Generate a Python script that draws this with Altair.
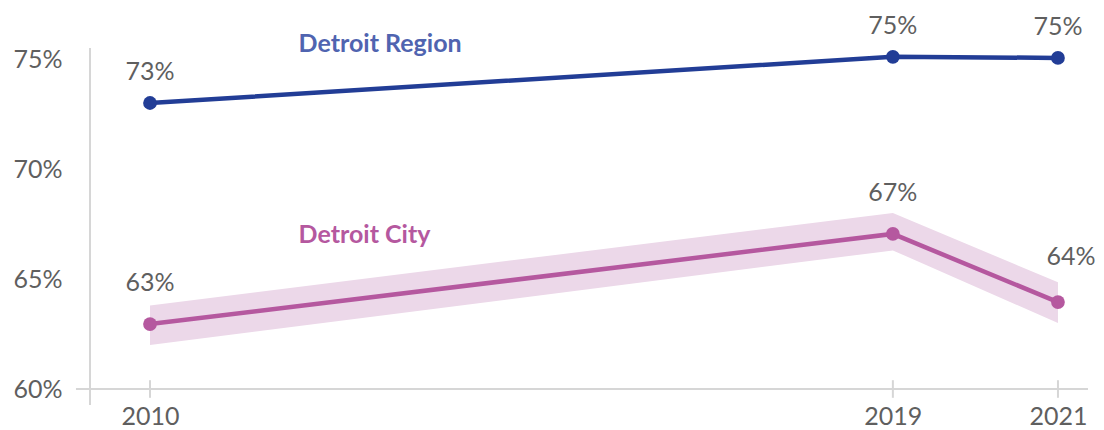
import altair as alt
import pandas as pd

years = [2010, 2019, 2021]
region = [73.0, 75.1, 75.05]
region_labels = ["73%", "75%", "75%"]
city = [62.95, 67.05, 63.95]
city_labels = ["63%", "67%", "64%"]
city_low = [62.0, 66.3, 63.0]
city_high = [63.8, 68.0, 64.85]

df_r = pd.DataFrame({"year": years, "v": region, "lab": region_labels})
df_c = pd.DataFrame({"year": years, "v": city, "lab": city_labels, "lo": city_low, "hi": city_high})

FONT = "Lato"
GREY = "#5f5f5f"
BLUE = "#223d96"
BLUE_T = "#5064b0"
PINK = "#b5589f"
BAND = "#ecd8e9"
AXC = "#d6d6d6"
FS = 25

xs = alt.Scale(domain=[2009.273, 2021.364], nice=False, zero=False)
ys = alt.Scale(domain=[60, 75.5], nice=False, zero=False)

X = alt.X("year:Q", scale=xs, axis=alt.Axis(values=years, format="d", domain=False, ticks=False,
          grid=False, labelFont=FONT, labelFontSize=FS, labelColor=GREY, labelPadding=15,
          labelFontWeight="normal"), title=None)
Y = alt.Y("v:Q", scale=ys, axis=alt.Axis(values=[60, 65, 70, 75], domain=False, ticks=False, grid=False,
          labelFont=FONT, labelFontSize=FS, labelColor=GREY, labelPadding=28,
          labelFontWeight="normal", labelExpr="datum.value + '%'"), title=None)

base_axis = alt.Chart(pd.DataFrame({"a": [0]}))
xline = base_axis.mark_rule(color=AXC, strokeWidth=2).encode(
    x=alt.datum(2009.103, scale=xs), x2=alt.datum(2021.364), y=alt.datum(60, scale=ys))
yline = base_axis.mark_rule(color=AXC, strokeWidth=2).encode(
    x=alt.datum(2009.273, scale=xs), y=alt.datum(75.5, scale=ys), y2=alt.datum(59.27))
xticks = alt.Chart(pd.DataFrame({"year": years})).mark_rule(color=AXC, strokeWidth=2).encode(
    x=alt.X("year:Q", scale=xs), y=alt.datum(60.4, scale=ys), y2=alt.datum(59.6))

band = alt.Chart(df_c).mark_area(color=BAND, opacity=1).encode(
    x=X, y=alt.Y("lo:Q", scale=ys), y2="hi:Q")

rline = alt.Chart(df_r).mark_line(color=BLUE, strokeWidth=4.5).encode(x=X, y=Y)
rpts = alt.Chart(df_r).mark_circle(color=BLUE, size=190, opacity=1).encode(x=X, y=Y)
cline = alt.Chart(df_c).mark_line(color=PINK, strokeWidth=4.5).encode(x=X, y=Y)
cpts = alt.Chart(df_c).mark_circle(color=PINK, size=190, opacity=1).encode(x=X, y=Y)

rtext = alt.Chart(df_r).mark_text(font=FONT, fontSize=FS, color=GREY, dy=-31).encode(
    x=X, y=Y, text="lab:N")
ctext1 = alt.Chart(df_c).transform_filter("datum.year < 2021").mark_text(
    font=FONT, fontSize=FS, color=GREY, dy=-41).encode(x=X, y=Y, text="lab:N")
ctext2 = alt.Chart(df_c).transform_filter("datum.year == 2021").mark_text(
    font=FONT, fontSize=FS, color=GREY, dy=-45, dx=13).encode(x=X, y=Y, text="lab:N")

names = pd.DataFrame({"name": ["Detroit Region", "Detroit City"], "year": [2011.8, 2011.8],
                      "v": [75.7, 67.0], "c": ["r", "c"]})
ntext = alt.Chart(names).mark_text(font=FONT, fontSize=25, fontWeight="bold", align="left").encode(
    x=alt.X("year:Q", scale=xs), y=alt.Y("v:Q", scale=ys), text="name:N",
    color=alt.Color("c:N", scale=alt.Scale(domain=["r", "c"], range=[BLUE_T, PINK]), legend=None))

chart = alt.layer(xline, yline, xticks, band, rline, cline, rpts, cpts, rtext, ctext1, ctext2, ntext).properties(
    width=998, height=341,
    autosize=alt.AutoSizeParams(type="none"),
    padding={"left": 82, "top": 40, "right": 8, "bottom": 41},
).configure_view(stroke=None)

chart.save("out.html", embed_options={"renderer": "svg", "actions": False})
